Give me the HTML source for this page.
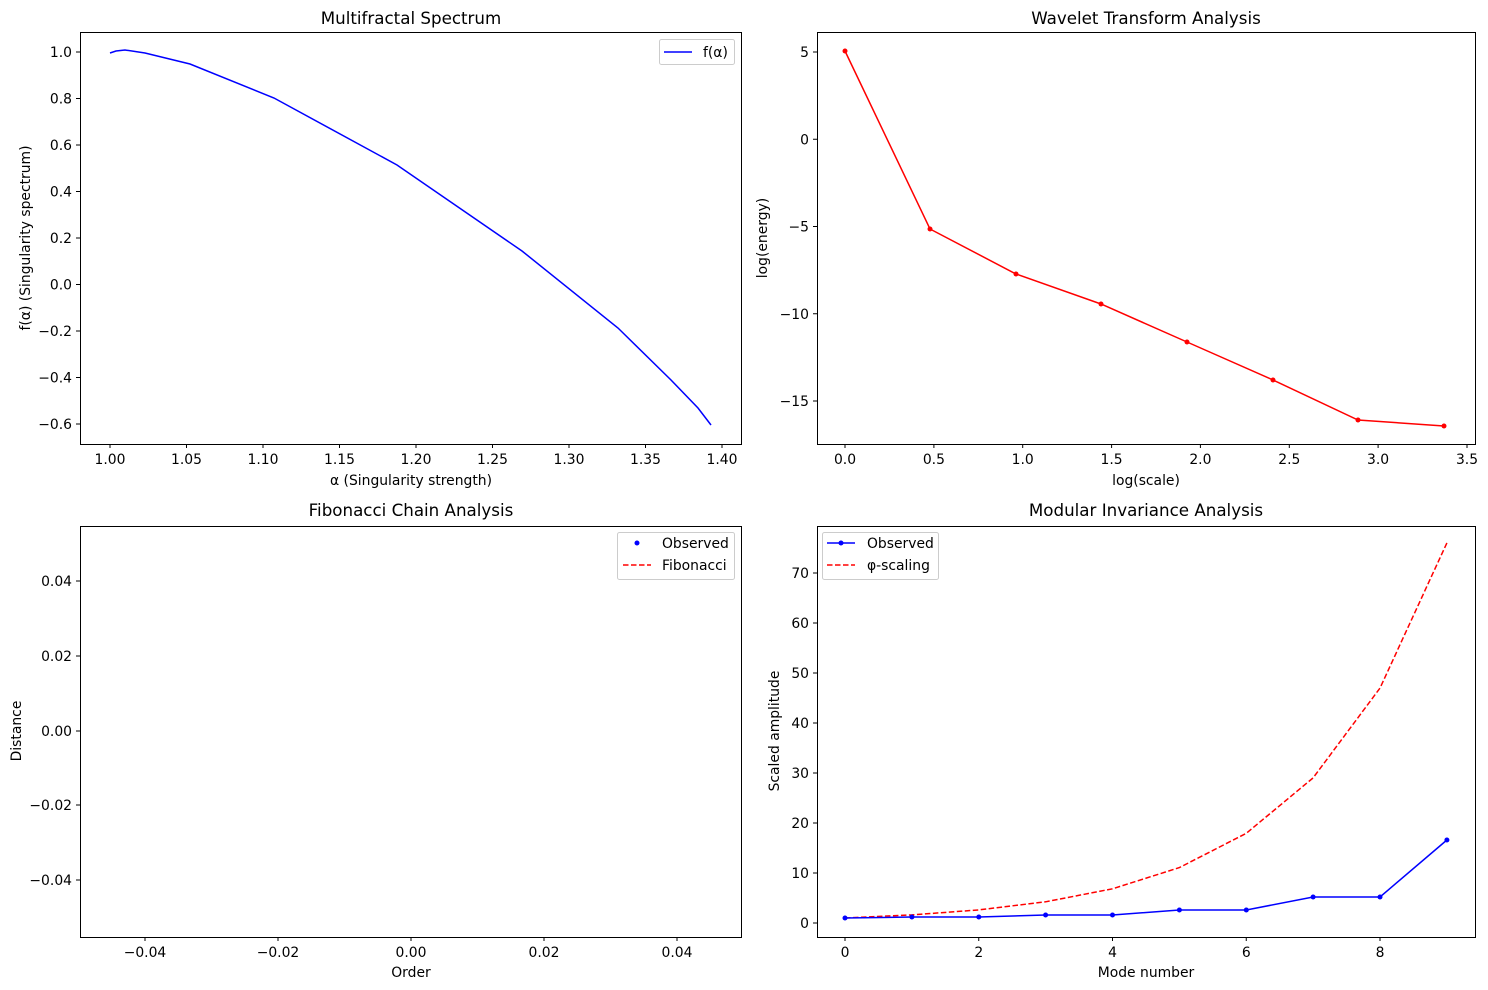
<!DOCTYPE html>
<html><head><meta charset="utf-8"><style>body{margin:0;background:#fff}svg{display:block}text{font-family:"DejaVu Sans","Liberation Sans",sans-serif;fill:#000}</style></head><body>
<svg width="1488" height="990" xmlns="http://www.w3.org/2000/svg" font-size="13.9">
<g stroke="#000" fill="none" stroke-width="1">
<rect x="80.5" y="32.5" width="661" height="412"/>
<rect x="817.5" y="32.5" width="658" height="412"/>
<rect x="80.5" y="526.5" width="661" height="411"/>
<rect x="817.5" y="526.5" width="658" height="411"/>
</g>
<g font-size="16.7" text-anchor="middle">
<text x="411" y="24">Multifractal Spectrum</text>
<text x="1146" y="24">Wavelet Transform Analysis</text>
<text x="411" y="516">Fibonacci Chain Analysis</text>
<text x="1146" y="516">Modular Invariance Analysis</text>
</g>
<!-- Plot 1 -->
<g stroke="#000">
<line x1="110" y1="444" x2="110" y2="448"/><line x1="186.5" y1="444" x2="186.5" y2="448"/><line x1="263" y1="444" x2="263" y2="448"/><line x1="339.5" y1="444" x2="339.5" y2="448"/><line x1="416" y1="444" x2="416" y2="448"/><line x1="492.5" y1="444" x2="492.5" y2="448"/><line x1="569" y1="444" x2="569" y2="448"/><line x1="645.5" y1="444" x2="645.5" y2="448"/><line x1="722" y1="444" x2="722" y2="448"/>
<line x1="76" y1="52" x2="80" y2="52"/><line x1="76" y1="98.5" x2="80" y2="98.5"/><line x1="76" y1="145" x2="80" y2="145"/><line x1="76" y1="191.5" x2="80" y2="191.5"/><line x1="76" y1="238" x2="80" y2="238"/><line x1="76" y1="284.5" x2="80" y2="284.5"/><line x1="76" y1="331" x2="80" y2="331"/><line x1="76" y1="377.5" x2="80" y2="377.5"/><line x1="76" y1="424" x2="80" y2="424"/>
</g>
<g text-anchor="middle">
<text x="110" y="464">1.00</text><text x="186.5" y="464">1.05</text><text x="263" y="464">1.10</text><text x="339.5" y="464">1.15</text><text x="416" y="464">1.20</text><text x="492.5" y="464">1.25</text><text x="569" y="464">1.30</text><text x="645.5" y="464">1.35</text><text x="722" y="464">1.40</text>
<text x="411" y="485">α (Singularity strength)</text>
</g>
<g text-anchor="end">
<text x="72" y="57">1.0</text><text x="72" y="103.5">0.8</text><text x="72" y="150">0.6</text><text x="72" y="196.5">0.4</text><text x="72" y="243">0.2</text><text x="72" y="289.5">0.0</text><text x="72" y="336">−0.2</text><text x="72" y="382.5">−0.4</text><text x="72" y="429">−0.6</text>
</g>
<text transform="translate(30,238) rotate(-90)" text-anchor="middle">f(α) (Singularity spectrum)</text>
<polyline fill="none" stroke="#0000ff" stroke-width="1.5" points="110,53 116,51 125,50 145,53 190,64 274,98 397,165 522,251 618,328 671,380 698,408 711,425"/>
<rect x="659.5" y="39.5" width="75" height="25" rx="2" fill="#fff" stroke="#ccc"/>
<line x1="664" y1="52" x2="692" y2="52" stroke="#0000ff" stroke-width="1.5"/>
<text x="703" y="57">f(α)</text>
<!-- Plot 2 -->
<g stroke="#000">
<line x1="845" y1="444" x2="845" y2="448"/><line x1="933.9" y1="444" x2="933.9" y2="448"/><line x1="1022.7" y1="444" x2="1022.7" y2="448"/><line x1="1111.6" y1="444" x2="1111.6" y2="448"/><line x1="1200.4" y1="444" x2="1200.4" y2="448"/><line x1="1289.3" y1="444" x2="1289.3" y2="448"/><line x1="1378.1" y1="444" x2="1378.1" y2="448"/><line x1="1467" y1="444" x2="1467" y2="448"/>
<line x1="813" y1="52" x2="817" y2="52"/><line x1="813" y1="139.25" x2="817" y2="139.25"/><line x1="813" y1="226.5" x2="817" y2="226.5"/><line x1="813" y1="313.75" x2="817" y2="313.75"/><line x1="813" y1="401" x2="817" y2="401"/>
</g>
<g text-anchor="middle">
<text x="845" y="464">0.0</text><text x="933.9" y="464">0.5</text><text x="1022.7" y="464">1.0</text><text x="1111.6" y="464">1.5</text><text x="1200.4" y="464">2.0</text><text x="1289.3" y="464">2.5</text><text x="1378.1" y="464">3.0</text><text x="1467" y="464">3.5</text>
<text x="1146" y="485">log(scale)</text>
</g>
<g text-anchor="end">
<text x="809" y="57">5</text><text x="809" y="144.25">0</text><text x="809" y="231.5">−5</text><text x="809" y="318.75">−10</text><text x="809" y="406">−15</text>
</g>
<text transform="translate(767,238) rotate(-90)" text-anchor="middle">log(energy)</text>
<g fill="#ff0000">
<polyline fill="none" stroke="#ff0000" stroke-width="1.5" points="845,51 930,229 1016,274 1101,304 1187,342 1273,380 1358,420 1444,426"/>
<circle cx="845" cy="51" r="2.5"/><circle cx="930" cy="229" r="2.5"/><circle cx="1016" cy="274" r="2.5"/><circle cx="1101" cy="304" r="2.5"/><circle cx="1187" cy="342" r="2.5"/><circle cx="1273" cy="380" r="2.5"/><circle cx="1358" cy="420" r="2.5"/><circle cx="1444" cy="426" r="2.5"/>
</g>
<!-- Plot 3 -->
<g stroke="#000">
<line x1="145" y1="937" x2="145" y2="941"/><line x1="278" y1="937" x2="278" y2="941"/><line x1="411" y1="937" x2="411" y2="941"/><line x1="544" y1="937" x2="544" y2="941"/><line x1="677" y1="937" x2="677" y2="941"/>
<line x1="76" y1="581" x2="80" y2="581"/><line x1="76" y1="656" x2="80" y2="656"/><line x1="76" y1="731" x2="80" y2="731"/><line x1="76" y1="805" x2="80" y2="805"/><line x1="76" y1="880" x2="80" y2="880"/>
</g>
<g text-anchor="middle">
<text x="145" y="957">−0.04</text><text x="278" y="957">−0.02</text><text x="411" y="957">0.00</text><text x="544" y="957">0.02</text><text x="677" y="957">0.04</text>
<text x="411" y="977">Order</text>
</g>
<g text-anchor="end">
<text x="72" y="586">0.04</text><text x="72" y="661">0.02</text><text x="72" y="736">0.00</text><text x="72" y="810">−0.02</text><text x="72" y="885">−0.04</text>
</g>
<text transform="translate(21,731) rotate(-90)" text-anchor="middle">Distance</text>
<rect x="617.5" y="532.5" width="117" height="47" rx="2" fill="#fff" stroke="#ccc"/>
<circle cx="637" cy="543" r="2.5" fill="#0000ff"/>
<text x="662" y="548">Observed</text>
<line x1="623" y1="565" x2="651" y2="565" stroke="#ff0000" stroke-width="1.5" stroke-dasharray="5.5,2.5"/>
<text x="662" y="570">Fibonacci</text>
<!-- Plot 4 -->
<g stroke="#000">
<line x1="845" y1="937" x2="845" y2="941"/><line x1="978.75" y1="937" x2="978.75" y2="941"/><line x1="1112.5" y1="937" x2="1112.5" y2="941"/><line x1="1246.25" y1="937" x2="1246.25" y2="941"/><line x1="1380" y1="937" x2="1380" y2="941"/>
<line x1="813" y1="923" x2="817" y2="923"/><line x1="813" y1="873" x2="817" y2="873"/><line x1="813" y1="823" x2="817" y2="823"/><line x1="813" y1="773" x2="817" y2="773"/><line x1="813" y1="723" x2="817" y2="723"/><line x1="813" y1="673" x2="817" y2="673"/><line x1="813" y1="623" x2="817" y2="623"/><line x1="813" y1="573" x2="817" y2="573"/>
</g>
<g text-anchor="middle">
<text x="845" y="957">0</text><text x="978.75" y="957">2</text><text x="1112.5" y="957">4</text><text x="1246.25" y="957">6</text><text x="1380" y="957">8</text>
<text x="1146" y="977">Mode number</text>
</g>
<g text-anchor="end">
<text x="809" y="928">0</text><text x="809" y="878">10</text><text x="809" y="828">20</text><text x="809" y="778">30</text><text x="809" y="728">40</text><text x="809" y="678">50</text><text x="809" y="628">60</text><text x="809" y="578">70</text>
</g>
<text transform="translate(779,731) rotate(-90)" text-anchor="middle">Scaled amplitude</text>
<polyline fill="none" stroke="#ff0000" stroke-width="1.5" stroke-dasharray="5.5,2.5" points="845,918 911.9,914.9 978.8,909.9 1045.6,901.8 1112.5,888.8 1179.4,867.6 1246.3,833.3 1313.1,777.9 1380,688.1 1446.9,542.9"/>
<g fill="#0000ff">
<polyline fill="none" stroke="#0000ff" stroke-width="1.5" points="845,918 911.9,917 978.8,917 1045.6,915 1112.5,915 1179.4,910 1246.3,910 1313.1,897 1380,897 1446.9,840"/>
<circle cx="845" cy="918" r="2.5"/><circle cx="911.9" cy="917" r="2.5"/><circle cx="978.8" cy="917" r="2.5"/><circle cx="1045.6" cy="915" r="2.5"/><circle cx="1112.5" cy="915" r="2.5"/><circle cx="1179.4" cy="910" r="2.5"/><circle cx="1246.3" cy="910" r="2.5"/><circle cx="1313.1" cy="897" r="2.5"/><circle cx="1380" cy="897" r="2.5"/><circle cx="1446.9" cy="840" r="2.5"/>
</g>
<rect x="822.5" y="532.5" width="116" height="47" rx="2" fill="#fff" stroke="#ccc"/>
<line x1="827" y1="543" x2="855" y2="543" stroke="#0000ff" stroke-width="1.5"/>
<circle cx="841" cy="543" r="2.5" fill="#0000ff"/>
<text x="867" y="548">Observed</text>
<line x1="827" y1="565" x2="855" y2="565" stroke="#ff0000" stroke-width="1.5" stroke-dasharray="5.5,2.5"/>
<text x="867" y="570">φ-scaling</text>
</svg>
</body></html>
